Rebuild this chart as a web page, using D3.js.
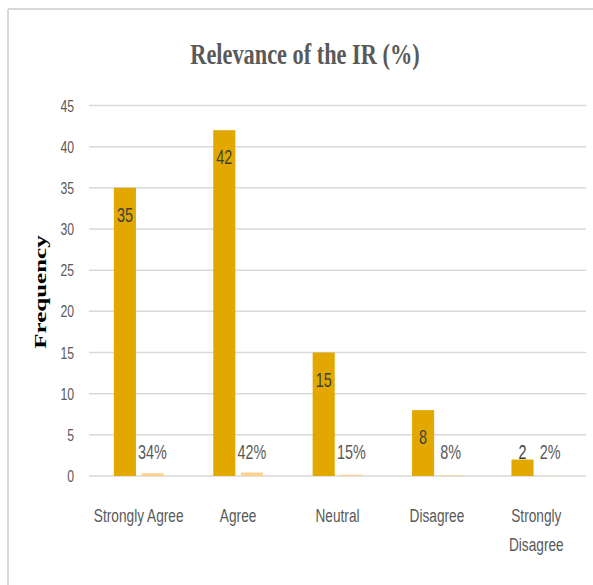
<!DOCTYPE html>
<html>
<head>
<meta charset="utf-8">
<script src="https://cdn.jsdelivr.net/npm/d3@7"></script>
<style>
  html, body { margin: 0; padding: 0; background: #fff; }
  svg { display: block; }
</style>
</head>
<body>
<svg id="chart" width="593" height="585"></svg>
<script>
const categories = ["Strongly Agree", "Agree", "Neutral", "Disagree", "Strongly Disagree"];
const frequency = [35, 42, 15, 8, 2];
const percentLabels = ["34%", "42%", "15%", "8%", "2%"];
const percentValues = [0.34, 0.42, 0.15, 0.08, 0.02];
const yTicks = [0, 5, 10, 15, 20, 25, 30, 35, 40, 45];
const titleText = "Relevance of the IR (%)";
const yTitle = "Frequency";

const W = 593, H = 585;
const SX = 0.72; // horizontal compression of the reference
const svg = d3.select("#chart");

// frame (top + left only visible)
svg.append("line").attr("x1", 8).attr("x2", W).attr("y1", 9).attr("y2", 9)
  .attr("stroke", "#D9D9D9").attr("stroke-width", 2);
svg.append("line").attr("x1", 8).attr("x2", 8).attr("y1", 9).attr("y2", H)
  .attr("stroke", "#D9D9D9").attr("stroke-width", 2);

const x0 = d3.scaleBand().domain(categories).range([89, 586]).paddingInner(0.5).paddingOuter(0.25);
const x1 = d3.scaleBand().domain(["count", "pct"]).range([0, x0.bandwidth()]).paddingInner(0.2);
const y = d3.scaleLinear().domain([0, 45]).range([476, 105.5]);

// gridlines
svg.append("g").selectAll("line").data(yTicks).join("line")
  .attr("x1", 89).attr("x2", 586)
  .attr("y1", d => y(d)).attr("y2", d => y(d))
  .attr("stroke", "#D9D9D9").attr("stroke-width", 1.5);

// y tick labels
svg.append("g").selectAll("text").data(yTicks).join("text")
  .attr("transform", d => `translate(74,${y(d)}) scale(${SX},1)`)
  .attr("text-anchor", "end").attr("dy", "0.36em")
  .attr("font-family", "Liberation Sans, Arial, sans-serif")
  .attr("font-size", 17).attr("fill", "#595959")
  .text(d => d);

// bars
const rows = categories.map((c, i) => ({ c, f: frequency[i], p: percentValues[i], pl: percentLabels[i] }));
const g = svg.append("g");
g.selectAll("rect.count").data(rows).join("rect").attr("class", "count")
  .attr("x", d => x0(d.c) + x1("count"))
  .attr("y", d => y(d.f))
  .attr("width", x1.bandwidth())
  .attr("height", d => y(0) - y(d.f))
  .attr("fill", "#E2A800");
g.selectAll("rect.pct").data(rows).join("rect").attr("class", "pct")
  .attr("x", d => x0(d.c) + x1("pct"))
  .attr("y", d => y(d.p))
  .attr("width", x1.bandwidth())
  .attr("height", d => y(0) - y(d.p))
  .attr("fill", "#FFD18C");

// data labels
const labelY = v => Math.min(y(v) + 27, y(0) - 24);
g.selectAll("text.cl").data(rows).join("text").attr("class", "cl")
  .attr("transform", d => `translate(${x0(d.c) + x1("count") + x1.bandwidth() / 2},${labelY(d.f)}) scale(${SX},1)`)
  .attr("text-anchor", "middle").attr("dy", "0.36em")
  .attr("font-family", "Liberation Sans, Arial, sans-serif")
  .attr("font-size", 20).attr("fill", "#404040")
  .text(d => d.f);
g.selectAll("text.pl").data(rows).join("text").attr("class", "pl")
  .attr("transform", d => `translate(${x0(d.c) + x1("pct") + x1.bandwidth() / 2},${labelY(d.p)}) scale(${SX},1)`)
  .attr("text-anchor", "middle").attr("dy", "0.36em")
  .attr("font-family", "Liberation Sans, Arial, sans-serif")
  .attr("font-size", 20).attr("fill", "#595959")
  .text(d => d.pl);

// x category labels (wrapped to fit band)
const xl = svg.append("g");
categories.forEach(c => {
  const cx = x0(c) + x0.bandwidth() / 2;
  const lines = c === "Strongly Disagree" ? ["Strongly", "Disagree"] : [c];
  lines.forEach((ln, k) => {
    xl.append("text")
      .attr("transform", `translate(${cx},${522 + k * 29}) scale(${SX},1)`)
      .attr("text-anchor", "middle")
      .attr("font-family", "Liberation Sans, Arial, sans-serif")
      .attr("font-size", 19).attr("fill", "#595959")
      .text(ln);
  });
});

// title
svg.append("text")
  .attr("transform", `translate(305,64) scale(0.77,1)`)
  .attr("text-anchor", "middle")
  .attr("font-family", "Liberation Serif, Times New Roman, serif")
  .attr("font-weight", "bold")
  .attr("font-size", 29).attr("fill", "#595959")
  .text(titleText);

// y axis title
svg.append("text")
  .attr("transform", `translate(46,292) rotate(-90) scale(1,0.7)`)
  .attr("text-anchor", "middle")
  .attr("font-family", "Liberation Serif, Times New Roman, serif")
  .attr("font-weight", "bold")
  .attr("font-size", 25).attr("fill", "#000")
  .text(yTitle);
</script>
</body>
</html>
